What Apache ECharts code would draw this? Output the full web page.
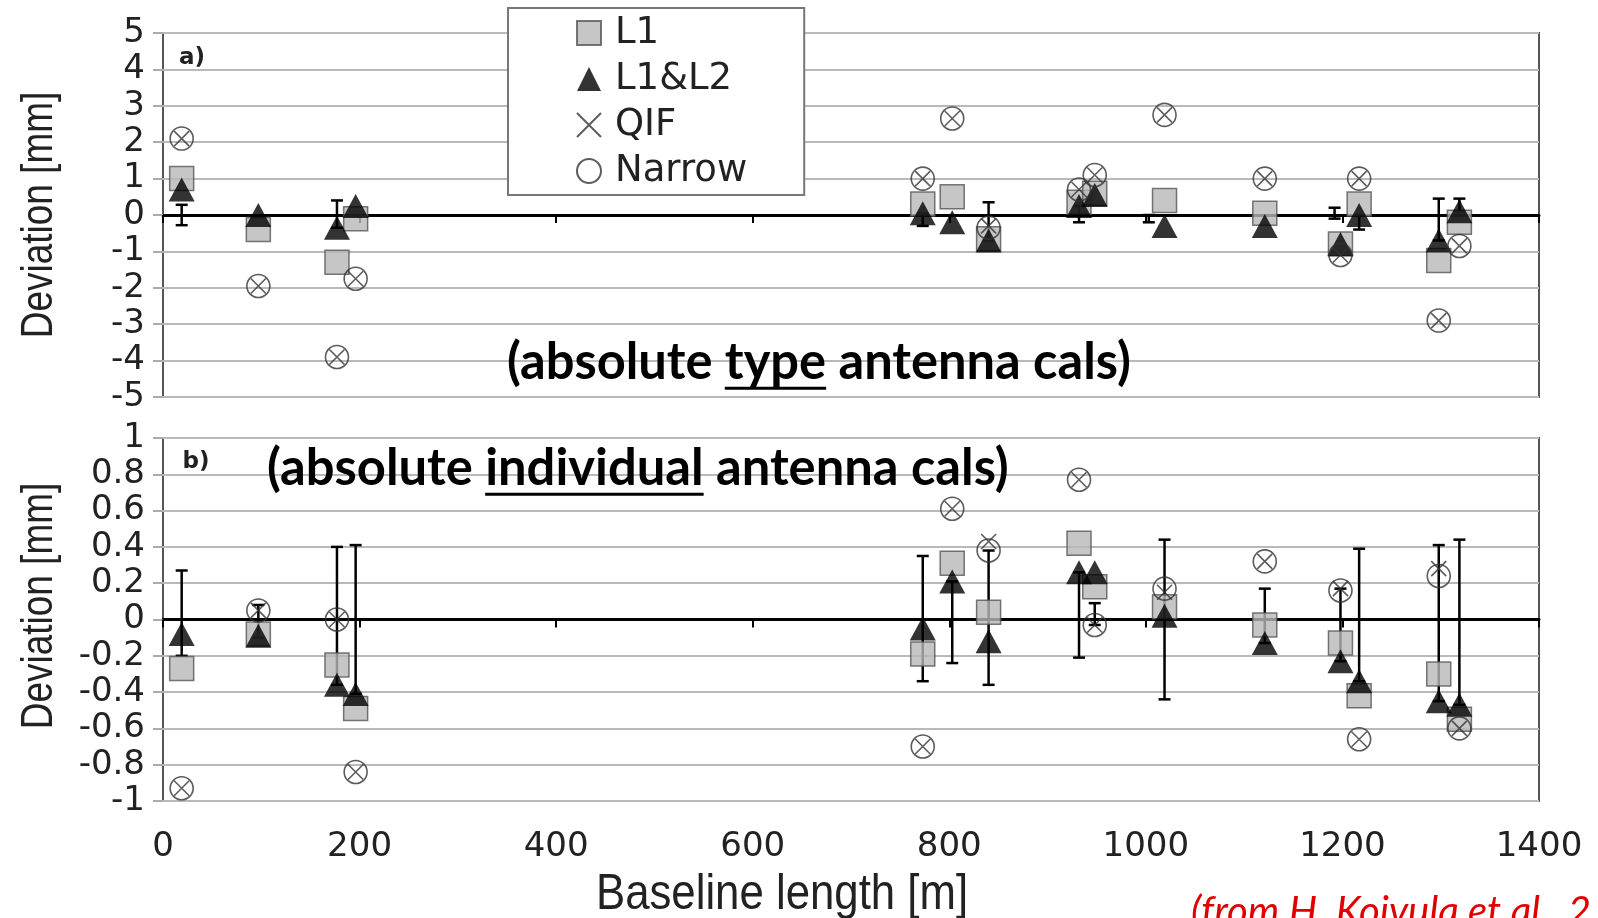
<!DOCTYPE html>
<html><head><meta charset="utf-8">
<script src="https://cdn.jsdelivr.net/npm/echarts@6/dist/echarts.min.js"></script>
<style>html,body{margin:0;padding:0;background:#fff;overflow:hidden}#c{width:1598px;height:918px}</style>
</head><body><div id="c"></div>
<script>
// ---- data ----
const baseline = [19, 97, 177, 196, 773, 803, 840, 932, 948, 1019, 1121, 1198, 1217, 1298, 1319];

// panel a) absolute type antenna cals
const aL1     = [1.0, -0.4, -1.3, -0.1, 0.3, 0.5, -0.65, 0.35, 0.6, 0.4, 0.05, -0.8, 0.3, -1.25, -0.2];
const aL1L2   = [0.7, 0.0, -0.35, 0.25, 0.05, -0.2, -0.7, 0.25, 0.55, -0.3, -0.3, -0.8, 0.0, -0.7, 0.1];
const aQIF    = [2.1, -1.95, -3.9, -1.75, 1.0, 2.65, -0.3, 0.7, 1.1, 2.75, 1.0, -1.1, 1.0, -2.9, -0.85];
const aNarrow = [2.1, -1.95, -3.9, -1.75, 1.0, 2.65, -0.35, 0.7, 1.1, 2.75, 1.0, -1.1, 1.0, -2.9, -0.85];
const aErrX  = [19, 177, 773, 840, 932, 1003, 1192, 1217, 1298, 1319];
const aErrLo = [-0.28, -0.35, -0.3, -0.7, -0.2, -0.2, -0.1, -0.4, -0.7, 0.1];
const aErrHi = [0.28, 0.4, 0.05, 0.35, 0.25, 0.0, 0.2, 0.0, 0.45, 0.45];

// panel b) absolute individual antenna cals
const bL1     = [-0.27, -0.08, -0.25, -0.49, -0.19, 0.31, 0.04, 0.42, 0.18, 0.07, -0.03, -0.13, -0.42, -0.3, -0.55];
const bL1L2   = [-0.08, -0.09, -0.36, -0.41, -0.05, 0.21, -0.12, 0.26, 0.26, 0.02, -0.13, -0.23, -0.34, -0.45, -0.47];
const bQIF    = [-0.93, 0.05, 0.0, -0.84, -0.7, 0.61, 0.43, 0.77, -0.03, 0.15, 0.32, 0.17, -0.66, 0.28, -0.6];
const bNarrow = [-0.93, 0.05, 0.0, -0.84, -0.7, 0.61, 0.38, 0.77, -0.03, 0.17, 0.32, 0.16, -0.66, 0.24, -0.6];
const bErrX  = [19, 97, 177, 196, 773, 803, 840, 932, 948, 1019, 1121, 1198, 1217, 1298, 1319];
const bErrLo = [-0.2, -0.1, -0.36, -0.41, -0.34, -0.24, -0.36, -0.21, -0.03, -0.44, -0.13, -0.23, -0.34, -0.45, -0.47];
const bErrHi = [0.27, 0.08, 0.4, 0.41, 0.35, 0.21, 0.38, 0.26, 0.09, 0.44, 0.17, 0.17, 0.39, 0.41, 0.44];

const seriesNames = ['L1', 'L1&L2', 'QIF', 'Narrow'];
const yAxisTitle = 'Deviation [mm]';
const xAxisTitle = 'Baseline length [m]';
const panelLabels = ['a)', 'b)'];
const sourceNote = '(from H. Koivula et al., 2';

// ---- chart ----
const chart = echarts.init(document.getElementById('c'), null, {renderer: 'canvas'});
const crossPath = 'path://M0,0L10,10M10,0L0,10';

const styles = {
  'L1':     {symbol: 'rect', symbolSize: 24, itemStyle: {color: '#b8b8b8', borderColor: '#555', borderWidth: 1.5}, z: 3},
  'L1&L2':  {symbol: 'triangle', symbolSize: [26, 24], itemStyle: {color: '#000', borderColor: '#000', borderWidth: 0}, z: 4},
  'QIF':    {symbol: crossPath, symbolSize: 15, itemStyle: {color: 'rgba(0,0,0,0)', borderColor: '#333', borderWidth: 1.6}, z: 6},
  'Narrow': {symbol: 'circle', symbolSize: 23, itemStyle: {color: 'rgba(0,0,0,0)', borderColor: '#333', borderWidth: 1.6}, z: 5}
};

function scatter(name, vals, idx) {
  const s = styles[name];
  return {
    type: 'scatter', name, xAxisIndex: idx, yAxisIndex: idx,
    data: baseline.map((x, i) => [x, vals[i]]),
    symbol: s.symbol, symbolSize: s.symbolSize, itemStyle: s.itemStyle, z: s.z,
    emphasis: {disabled: true}
  };
}

function errRender(params, api) {
  const x = api.value(0), lo = api.value(1), hi = api.value(2);
  const pLo = api.coord([x, lo]), pHi = api.coord([x, hi]);
  const hw = 6;
  const style = {stroke: '#000', lineWidth: 2.5, fill: null};
  return {type: 'group', children: [
    {type: 'line', shape: {x1: pLo[0], y1: pLo[1], x2: pHi[0], y2: pHi[1]}, style},
    {type: 'line', shape: {x1: pLo[0] - hw, y1: pLo[1], x2: pLo[0] + hw, y2: pLo[1]}, style},
    {type: 'line', shape: {x1: pHi[0] - hw, y1: pHi[1], x2: pHi[0] + hw, y2: pHi[1]}, style}
  ]};
}
function errSeries(xs, lo, hi, idx) {
  return {
    type: 'custom', name: 'err' + idx, xAxisIndex: idx, yAxisIndex: idx, z: 2,
    renderItem: errRender, encode: {x: 0, y: [1, 2]},
    data: xs.map((x, i) => [x, lo[i], hi[i]]), silent: true
  };
}

const tickFont = {fontFamily: 'DejaVu Sans', fontSize: 34, color: '#222'};
const zeroAxis = (g) => ({
  gridIndex: g, type: 'value', position: 'bottom', min: 0, max: 1400, interval: 200,
  axisLine: {show: true, onZero: true, lineStyle: {color: '#000', width: 3}},
  axisTick: {show: true, length: 8, lineStyle: {color: '#000', width: 2}},
  axisLabel: {show: false}, splitLine: {show: false}
});
const yAx = (g, min, max, interval) => ({
  gridIndex: g, type: 'value', min, max, interval,
  axisLine: {show: false},
  axisTick: {show: true, inside: false, length: 10, lineStyle: {color: '#aaa', width: 2}},
  axisLabel: Object.assign({margin: 18, formatter: v => String(+v.toFixed(2))}, tickFont),
  splitLine: {show: true, lineStyle: {color: '#b9b9b9', width: 2}}
});

// annotation texts with underline
const mctx = document.createElement('canvas').getContext('2d');
function annotation(parts, left, cy, targetW) {
  mctx.font = 'bold 100px Lato';
  const w100 = parts.reduce((s, p) => s + mctx.measureText(p.t).width, 0);
  const fs = 100 * targetW / w100;
  mctx.font = 'bold ' + fs + 'px Lato';
  let x = left; const els = [];
  parts.forEach(p => {
    const w = mctx.measureText(p.t).width;
    els.push({type: 'text', x: x, y: cy, z: 50,
      style: {text: p.t, fontFamily: 'Lato', fontWeight: 'bold', fontSize: fs, fill: '#000',
              align: 'left', verticalAlign: 'middle', textAlign: 'left', textVerticalAlign: 'middle'}});
    if (p.u) {
      els.push({type: 'line', z: 50, shape: {x1: x, y1: cy + fs * 0.5, x2: x + w, y2: cy + fs * 0.5},
        style: {stroke: '#000', lineWidth: 3}});
    }
    x += w;
  });
  return els;
}

const narrowFont = 'Liberation Sans';
const center = {align: 'center', verticalAlign: 'middle', textAlign: 'center', textVerticalAlign: 'middle'};
const graphics = [].concat(
  annotation([{t: '(absolute '}, {t: 'type', u: true}, {t: ' antenna cals)'}], 507, 363, 624),
  annotation([{t: '(absolute '}, {t: 'individual', u: true}, {t: ' antenna cals)'}], 267, 469, 742),
  [
    {type: 'text', x: 40, y: 215, rotation: Math.PI / 2, scaleX: 0.84, z: 50,
     style: Object.assign({text: yAxisTitle, fontFamily: narrowFont, fontSize: 44, fill: '#222'}, center)},
    {type: 'text', x: 40, y: 606, rotation: Math.PI / 2, scaleX: 0.84, z: 50,
     style: Object.assign({text: yAxisTitle, fontFamily: narrowFont, fontSize: 44, fill: '#222'}, center)},
    {type: 'text', x: 782, y: 895, scaleX: 0.875, z: 50,
     style: Object.assign({text: xAxisTitle, fontFamily: narrowFont, fontSize: 50, fill: '#222'}, center)},
    {type: 'text', x: 192, y: 58, z: 50,
     style: Object.assign({text: panelLabels[0], fontFamily: 'DejaVu Sans', fontWeight: 'bold', fontSize: 23, fill: '#222'}, center)},
    {type: 'text', x: 196, y: 462, z: 50,
     style: Object.assign({text: panelLabels[1], fontFamily: 'DejaVu Sans', fontWeight: 'bold', fontSize: 23, fill: '#222'}, center)},
    {type: 'text', x: 1191, y: 912, z: 50,
     style: {text: sourceNote, fontFamily: 'Lato', fontStyle: 'italic', fontSize: 40, fill: '#e00000',
             align: 'left', verticalAlign: 'middle', textAlign: 'left', textVerticalAlign: 'middle'}}
  ]
);

const option = {
  animation: false,
  backgroundColor: '#fff',
  grid: [
    {left: 163, top: 33, width: 1376, height: 364, show: true, borderColor: '#555', borderWidth: 2, backgroundColor: '#fff'},
    {left: 163, top: 438, width: 1376, height: 363, show: true, borderColor: '#555', borderWidth: 2, backgroundColor: '#fff'}
  ],
  xAxis: [
    zeroAxis(0),
    zeroAxis(1),
    {gridIndex: 1, type: 'value', position: 'bottom', min: 0, max: 1400, interval: 200,
     axisLine: {show: false, onZero: false}, axisTick: {show: false},
     axisLabel: Object.assign({margin: 29, formatter: v => String(v)}, tickFont), splitLine: {show: false}}
  ],
  yAxis: [yAx(0, -5, 5, 1), yAx(1, -1, 1, 0.2)],
  legend: {
    show: true, orient: 'vertical', left: 508, top: 8,
    backgroundColor: '#fff', borderColor: '#777', borderWidth: 2, borderRadius: 0,
    padding: [5, 57, 4, 68], itemGap: 6, itemWidth: 24, itemHeight: 24,
    textStyle: {fontFamily: 'DejaVu Sans', fontSize: 37, color: '#222', lineHeight: 40, padding: [0, 0, 0, 9]},
    selectedMode: false, z: 20,
    data: seriesNames.map(n => ({name: n, icon: styles[n].symbol}))
  },
  series: [
    errSeries(aErrX, aErrLo, aErrHi, 0),
    scatter('L1', aL1, 0), scatter('L1&L2', aL1L2, 0), scatter('Narrow', aNarrow, 0), scatter('QIF', aQIF, 0),
    errSeries(bErrX, bErrLo, bErrHi, 1),
    scatter('L1', bL1, 1), scatter('L1&L2', bL1L2, 1), scatter('Narrow', bNarrow, 1), scatter('QIF', bQIF, 1)
  ],
  graphic: graphics
};
chart.setOption(option);
</script>
</body></html>
